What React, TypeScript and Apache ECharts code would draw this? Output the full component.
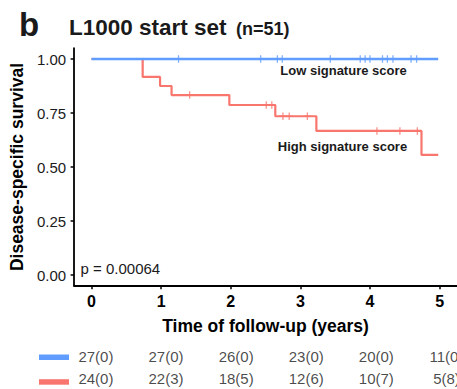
import React, { useEffect, useRef } from "react";
import * as echarts from "echarts";

const FONT = '"Liberation Sans", Arial, Helvetica, sans-serif';
const BLUE = "#619CFF";
const RED = "#F8766D";

// Kaplan-Meier curves
const lowTimes = [0, 4.98];
const lowSurv = [1, 1];
const highTimes = [0, 0.735, 0.985, 1.15, 1.98, 2.64, 3.23, 4.74, 4.98];
const highSurv = [1, 0.917, 0.875, 0.833, 0.787, 0.735, 0.667, 0.556, 0.556];

// censor marks
const lowCensorTimes = [1.25, 2.43, 2.67, 2.74, 3.43, 3.86, 3.93, 4.0, 4.18, 4.25, 4.33, 4.59, 4.67];
const lowCensorSurv = lowCensorTimes.map(() => 1);
const highCensorTimes = [1.41, 2.51, 2.59, 2.75, 2.84, 3.1, 4.1, 4.43, 4.68];
const highCensorSurv = [0.833, 0.787, 0.787, 0.735, 0.735, 0.735, 0.667, 0.667, 0.667];

// axes
const xTicks = [0, 1, 2, 3, 4, 5];
const yTicks = [0, 0.25, 0.5, 0.75, 1];

// risk table
const riskTimes = [0, 1, 2, 3, 4, 5];
const lowRisk = ["27(0)", "27(0)", "26(0)", "23(0)", "20(0)", "11(0)"];
const highRisk = ["24(0)", "22(3)", "18(5)", "12(6)", "10(7)", "5(8)"];

const PLUS = "path://M-0.17,-1H0.17V-0.17H1V0.17H0.17V1H-0.17V0.17H-1V-0.17H-0.17Z";

const zip = (a: number[], b: number[]) => a.map((v, i) => [v, b[i]]);

export default function App() {
  const ref = useRef<HTMLDivElement>(null);
  useEffect(() => {
    const chart = echarts.init(ref.current!, null, { renderer: "svg" });
    const riskLabel = (arr: string[]) => ({
      show: true,
      position: "inside",
      offset: [7, 0],
      formatter: (p: any) => arr[p.dataIndex],
      fontFamily: FONT,
      fontSize: 15,
      color: "#1a1a1a",
    });
    chart.setOption({
      animation: false,
      backgroundColor: "#ffffff",
      textStyle: { fontFamily: FONT },
      grid: [
        { left: 71.4, top: 48.2, width: 386.9, height: 237.6 },
        { left: 71.4, top: 345, width: 386.9, height: 49 },
      ],
      xAxis: [
        {
          type: "value",
          gridIndex: 0,
          min: -0.25,
          max: 5.25,
          splitLine: { show: false },
          axisLine: { show: true, onZero: false, lineStyle: { color: "#000", width: 1.8 } },
          axisTick: { show: true, customValues: xTicks, length: 3.5, lineStyle: { color: "#000", width: 1.5 } },
          axisLabel: {
            customValues: xTicks,
            margin: 8,
            fontSize: 16,
            fontWeight: "bold",
            color: "#000",
            fontFamily: FONT,
          },
          name: "Time of follow-up (years)",
          nameLocation: "middle",
          nameGap: 31,
          nameTextStyle: { fontSize: 17.5, fontWeight: "bold", color: "#000", fontFamily: FONT },
        },
        { type: "value", gridIndex: 1, min: -0.25, max: 5.25, show: false },
      ],
      yAxis: [
        {
          type: "value",
          gridIndex: 0,
          min: -0.05,
          max: 1.05,
          splitLine: { show: false },
          axisLine: { show: true, onZero: false, lineStyle: { color: "#000", width: 1.8 } },
          axisTick: { show: true, customValues: yTicks, length: 3.5, lineStyle: { color: "#000", width: 1.5 } },
          axisLabel: {
            customValues: yTicks,
            margin: 8,
            fontSize: 15,
            color: "#1a1a1a",
            fontFamily: FONT,
            formatter: (v: number) => v.toFixed(2),
          },
          name: "Disease-specific survival",
          nameLocation: "middle",
          nameGap: 46,
          nameTextStyle: { fontSize: 17.5, fontWeight: "bold", color: "#000", fontFamily: FONT },
        },
        { type: "value", gridIndex: 1, min: 0, max: 2, show: false },
      ],
      series: [
        {
          type: "line",
          step: "end",
          data: zip(highTimes, highSurv),
          showSymbol: false,
          lineStyle: { color: RED, width: 2.2 },
          xAxisIndex: 0,
          yAxisIndex: 0,
        },
        {
          type: "line",
          step: "end",
          data: zip(lowTimes, lowSurv),
          showSymbol: false,
          lineStyle: { color: BLUE, width: 2.6 },
          xAxisIndex: 0,
          yAxisIndex: 0,
        },
        {
          type: "scatter",
          data: zip(highCensorTimes, highCensorSurv),
          symbol: PLUS,
          symbolSize: 7.5,
          itemStyle: { color: RED },
          xAxisIndex: 0,
          yAxisIndex: 0,
        },
        {
          type: "scatter",
          data: zip(lowCensorTimes, lowCensorSurv),
          symbol: PLUS,
          symbolSize: 7.5,
          itemStyle: { color: BLUE },
          xAxisIndex: 0,
          yAxisIndex: 0,
        },
        {
          type: "scatter",
          data: riskTimes.map((t) => [t, 1.5]),
          symbolSize: 1,
          itemStyle: { color: "rgba(0,0,0,0)" },
          label: riskLabel(lowRisk),
          xAxisIndex: 1,
          yAxisIndex: 1,
          silent: true,
        },
        {
          type: "scatter",
          data: riskTimes.map((t) => [t, 0.5]),
          symbolSize: 1,
          itemStyle: { color: "rgba(0,0,0,0)" },
          label: riskLabel(highRisk),
          xAxisIndex: 1,
          yAxisIndex: 1,
          silent: true,
        },
      ],
      graphic: [
        {
          type: "text",
          left: 19,
          top: 8,
          style: { text: "b", fontSize: 33, fontWeight: "bold", fill: "#1a1a1a", fontFamily: FONT },
        },
        {
          type: "text",
          left: 69,
          top: 16,
          style: { text: "L1000 start set", fontSize: 22.5, fontWeight: "bold", fill: "#1a1a1a", fontFamily: FONT },
        },
        {
          type: "text",
          left: 236,
          top: 20,
          style: { text: "(n=51)", fontSize: 18, fontWeight: "bold", fill: "#1a1a1a", fontFamily: FONT },
        },
        {
          type: "text",
          x: 343.5,
          y: 70,
          style: {
            text: "Low signature score",
            fontSize: 13,
            fontWeight: "bold",
            fill: "#1a1a1a",
            fontFamily: FONT,
            textAlign: "center",
            textVerticalAlign: "middle",
          },
        },
        {
          type: "text",
          x: 342.5,
          y: 146,
          style: {
            text: "High signature score",
            fontSize: 13,
            fontWeight: "bold",
            fill: "#1a1a1a",
            fontFamily: FONT,
            textAlign: "center",
            textVerticalAlign: "middle",
          },
        },
        {
          type: "text",
          x: 80.5,
          y: 268,
          style: {
            text: "p = 0.00064",
            fontSize: 15,
            fill: "#1a1a1a",
            fontFamily: FONT,
            textAlign: "left",
            textVerticalAlign: "middle",
          },
        },
        { type: "rect", shape: { x: 39, y: 354.5, width: 30, height: 5.5 }, style: { fill: BLUE } },
        { type: "rect", shape: { x: 39, y: 379.2, width: 30, height: 5.5 }, style: { fill: RED } },
      ],
    });
    return () => chart.dispose();
  }, []);
  return <div ref={ref} style={{ position: "fixed", left: 0, top: 0, width: 457, height: 389 }} />;
}
